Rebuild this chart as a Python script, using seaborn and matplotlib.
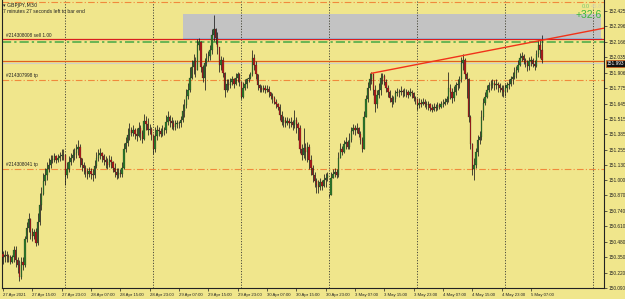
import numpy as np
import pandas as pd
import matplotlib
matplotlib.use("Agg")
import matplotlib.pyplot as plt
import matplotlib.transforms as mtransforms
from matplotlib.patches import Rectangle
import seaborn as sns

# ---------------- data (GBPJPY M30) ----------------
close = [
    150.35, 150.37, 150.36, 150.35, 150.31, 150.35, 150.41, 150.33, 150.28, 150.18,
    150.31, 150.28, 150.50, 150.60, 150.67, 150.56, 150.53, 150.56, 150.47, 150.65,
    150.79, 150.88, 150.99, 151.04, 151.09, 151.13, 151.17, 151.17, 151.20, 151.17,
    151.19, 151.20, 151.21, 151.21, 151.04, 151.09, 151.15, 151.19, 151.21, 151.23,
    151.26, 151.28, 151.19, 151.13, 151.10, 151.07, 151.05, 151.08, 151.05, 151.04,
    151.12, 151.19, 151.21, 151.23, 151.20, 151.17, 151.15, 151.13, 151.17, 151.15,
    151.10, 151.07, 151.04, 151.06, 151.05, 151.10, 151.26, 151.31, 151.38, 151.42,
    151.40, 151.42, 151.39, 151.37, 151.44, 151.40, 151.35, 151.50, 151.47, 151.42,
    151.43, 151.38, 151.26, 151.37, 151.42, 151.41, 151.39, 151.42, 151.42, 151.49,
    151.53, 151.50, 151.48, 151.45, 151.47, 151.48, 151.48, 151.51, 151.58, 151.63,
    151.71, 151.76, 151.86, 151.95, 152.00, 151.93, 152.14, 152.16, 151.95, 151.86,
    151.99, 152.03, 152.05, 152.10, 152.22, 152.27, 152.20, 152.12, 151.97, 152.01,
    151.90, 151.76, 151.81, 151.80, 151.83, 151.85, 151.81, 151.86, 151.89, 151.83,
    151.70, 151.78, 151.81, 151.85, 151.86, 151.89, 152.03, 151.97, 151.89, 151.80,
    151.78, 151.76, 151.78, 151.76, 151.77, 151.74, 151.71, 151.69, 151.66, 151.64,
    151.62, 151.55, 151.49, 151.51, 151.48, 151.50, 151.48, 151.49, 151.46, 151.51,
    151.47, 151.44, 151.26, 151.21, 151.27, 151.24, 151.28, 151.17, 151.10, 151.04,
    150.99, 150.96, 150.94, 150.98, 150.95, 151.00, 151.02, 151.04, 150.87, 151.02,
    151.05, 151.07, 151.04, 151.19, 151.26, 151.24, 151.30, 151.32, 151.28, 151.34,
    151.41, 151.44, 151.42, 151.44, 151.39, 151.34, 151.26, 151.53, 151.68, 151.78,
    151.85, 151.89, 151.76, 151.64, 151.72, 151.76, 151.86, 151.88, 151.83, 151.78,
    151.74, 151.69, 151.66, 151.68, 151.73, 151.74, 151.74, 151.75, 151.74, 151.74,
    151.74, 151.72, 151.74, 151.73, 151.69, 151.68, 151.63, 151.65, 151.64, 151.66,
    151.64, 151.63, 151.64, 151.61, 151.59, 151.62, 151.61, 151.63, 151.62, 151.64,
    151.64, 151.66, 151.68, 151.78, 151.74, 151.69, 151.74, 151.80, 151.81, 151.85,
    151.99, 152.01, 151.89, 151.85, 151.53, 151.30, 151.09, 151.13, 151.24, 151.34,
    151.36, 151.53, 151.65, 151.70, 151.76, 151.80, 151.80, 151.82, 151.80, 151.81,
    151.80, 151.78, 151.76, 151.74, 151.78, 151.80, 151.81, 151.85, 151.87, 151.90,
    151.93, 151.97, 152.03, 152.05, 152.01, 151.99, 151.96, 152.00, 152.01, 151.98,
    151.96, 152.06, 152.14, 152.10, 152.01,
]
high = [
    150.40, 150.41, 150.40, 150.38, 150.37, 150.37, 150.44, 150.44, 150.35, 150.33,
    150.35, 150.35, 150.53, 150.65, 150.72, 150.68, 150.60, 150.59, 150.60, 150.72,
    150.89, 150.94, 151.06, 151.10, 151.15, 151.19, 151.21, 151.21, 151.23, 151.21,
    151.22, 151.24, 151.26, 151.26, 151.21, 151.15, 151.20, 151.23, 151.26, 151.27,
    151.30, 151.34, 151.30, 151.19, 151.15, 151.13, 151.10, 151.11, 151.10, 151.09,
    151.17, 151.24, 151.26, 151.27, 151.24, 151.22, 151.20, 151.19, 151.21, 151.20,
    151.16, 151.14, 151.10, 151.10, 151.09, 151.15, 151.31, 151.36, 151.44, 151.48,
    151.45, 151.46, 151.44, 151.44, 151.49, 151.46, 151.42, 151.56, 151.54, 151.52,
    151.47, 151.45, 151.39, 151.45, 151.46, 151.45, 151.44, 151.46, 151.45, 151.55,
    151.58, 151.55, 151.53, 151.51, 151.51, 151.51, 151.50, 151.54, 151.64, 151.68,
    151.77, 151.82, 151.95, 152.01, 152.06, 152.04, 152.19, 152.20, 152.17, 151.97,
    152.03, 152.07, 152.09, 152.14, 152.27, 152.39, 152.28, 152.25, 152.12, 152.05,
    152.04, 151.91, 151.85, 151.85, 151.86, 151.88, 151.86, 151.90, 151.91, 151.90,
    151.83, 151.83, 151.85, 151.86, 151.89, 151.91, 152.10, 152.06, 152.00, 151.89,
    151.81, 151.80, 151.80, 151.80, 151.80, 151.79, 151.74, 151.73, 151.71, 151.68,
    151.65, 151.64, 151.58, 151.54, 151.53, 151.53, 151.52, 151.53, 151.51, 151.59,
    151.53, 151.49, 151.46, 151.30, 151.44, 151.31, 151.32, 151.30, 151.21, 151.13,
    151.07, 151.02, 151.00, 151.02, 151.00, 151.05, 151.06, 151.07, 150.88, 151.07,
    151.09, 151.10, 151.09, 151.24, 151.31, 151.29, 151.34, 151.36, 151.34, 151.40,
    151.45, 151.47, 151.46, 151.48, 151.45, 151.41, 151.36, 151.58, 151.72, 151.83,
    151.90, 151.91, 151.90, 151.80, 151.76, 151.82, 151.90, 151.90, 151.89, 151.85,
    151.80, 151.76, 151.72, 151.71, 151.76, 151.78, 151.77, 151.79, 151.77, 151.78,
    151.77, 151.76, 151.78, 151.76, 151.74, 151.71, 151.69, 151.69, 151.68, 151.69,
    151.68, 151.67, 151.67, 151.65, 151.64, 151.65, 151.64, 151.66, 151.65, 151.67,
    151.68, 151.69, 151.71, 151.91, 151.81, 151.78, 151.79, 151.83, 151.85, 151.88,
    152.04, 152.06, 152.03, 151.91, 151.86, 151.55, 151.31, 151.19, 151.27, 151.38,
    151.41, 151.59, 151.69, 151.74, 151.80, 151.83, 151.84, 151.85, 151.84, 151.85,
    151.83, 151.82, 151.80, 151.80, 151.81, 151.83, 151.85, 151.88, 151.91, 151.95,
    151.96, 152.01, 152.07, 152.08, 152.06, 152.03, 152.01, 152.04, 152.05, 152.03,
    152.01, 152.10, 152.18, 152.18, 152.22,
]
low = [
    150.29, 150.31, 150.31, 150.31, 150.29, 150.30, 150.31, 150.27, 150.22, 150.15,
    150.17, 150.24, 150.27, 150.48, 150.56, 150.50, 150.49, 150.50, 150.44, 150.45,
    150.62, 150.75, 150.87, 150.96, 151.00, 151.07, 151.10, 151.14, 151.15, 151.14,
    151.15, 151.16, 151.17, 151.17, 150.96, 151.02, 151.07, 151.13, 151.15, 151.17,
    151.19, 151.21, 151.11, 151.08, 151.05, 151.03, 151.01, 151.03, 151.01, 150.99,
    151.02, 151.10, 151.16, 151.18, 151.15, 151.13, 151.10, 151.09, 151.11, 151.10,
    151.07, 151.03, 151.01, 151.02, 151.03, 151.03, 151.09, 151.24, 151.29, 151.34,
    151.37, 151.37, 151.35, 151.33, 151.36, 151.34, 151.31, 151.34, 151.42, 151.38,
    151.39, 151.34, 151.22, 151.24, 151.34, 151.37, 151.36, 151.37, 151.38, 151.40,
    151.46, 151.45, 151.43, 151.42, 151.42, 151.44, 151.44, 151.45, 151.49, 151.53,
    151.61, 151.68, 151.74, 151.85, 151.89, 151.87, 151.93, 152.10, 151.91, 151.83,
    151.76, 151.96, 152.00, 152.01, 152.06, 152.17, 152.15, 152.06, 151.91, 151.93,
    151.87, 151.70, 151.74, 151.76, 151.78, 151.80, 151.78, 151.80, 151.83, 151.79,
    151.68, 151.69, 151.76, 151.78, 151.83, 151.85, 151.88, 151.93, 151.85, 151.76,
    151.74, 151.74, 151.74, 151.73, 151.74, 151.70, 151.68, 151.65, 151.64, 151.61,
    151.59, 151.51, 151.46, 151.45, 151.45, 151.46, 151.44, 151.45, 151.42, 151.44,
    151.40, 151.34, 151.23, 151.17, 151.19, 151.17, 151.15, 151.09, 151.04, 150.98,
    150.94, 150.89, 150.89, 150.92, 150.92, 150.94, 150.94, 150.99, 150.86, 150.88,
    151.02, 151.03, 151.02, 151.03, 151.19, 151.21, 151.23, 151.26, 151.26, 151.26,
    151.32, 151.39, 151.38, 151.40, 151.36, 151.30, 151.24, 151.26, 151.53, 151.66,
    151.76, 151.81, 151.72, 151.57, 151.61, 151.69, 151.72, 151.81, 151.80, 151.74,
    151.70, 151.66, 151.62, 151.64, 151.66, 151.71, 151.70, 151.72, 151.70, 151.71,
    151.70, 151.69, 151.71, 151.69, 151.67, 151.64, 151.59, 151.61, 151.62, 151.63,
    151.62, 151.60, 151.59, 151.58, 151.57, 151.58, 151.58, 151.59, 151.60, 151.61,
    151.62, 151.63, 151.64, 151.66, 151.68, 151.65, 151.67, 151.72, 151.76, 151.78,
    151.83, 151.93, 151.85, 151.69, 151.49, 151.26, 151.04, 151.00, 151.10, 151.20,
    151.30, 151.34, 151.51, 151.63, 151.69, 151.74, 151.76, 151.78, 151.76, 151.77,
    151.74, 151.74, 151.71, 151.70, 151.71, 151.74, 151.77, 151.79, 151.81, 151.85,
    151.86, 151.91, 151.96, 152.00, 151.98, 151.95, 151.92, 151.93, 151.96, 151.95,
    151.93, 151.95, 152.04, 152.03, 151.99,
]
first_open = 150.38
gap_opens = {178: 150.87}          # Monday open after the weekend gap

y_ticks = [152.425, 152.296, 152.166, 152.035, 151.906, 151.775, 151.645, 151.515,
           151.385, 151.255, 151.130, 151.000, 150.870, 150.740, 150.610, 150.480,
           150.350, 150.220, 150.090]
x_tick_bars = [0, 16, 32, 48, 64, 80, 96, 112, 128, 144, 160, 176, 192, 208, 224,
               240, 256, 272, 288]
x_tick_labels = ["27 Apr 2021", "27 Apr 15:00", "27 Apr 23:00", "28 Apr 07:00",
                 "28 Apr 15:00", "28 Apr 23:00", "29 Apr 07:00", "29 Apr 15:00",
                 "29 Apr 23:00", "30 Apr 07:00", "30 Apr 15:00", "30 Apr 23:00",
                 "3 May 07:00", "3 May 15:00", "3 May 23:00", "4 May 07:00",
                 "4 May 15:00", "4 May 23:00", "5 May 07:00"]
day_start_bars = [34, 82, 130, 178, 226, 274, 322]

sell_price = 152.187
sl_price = 152.166
bid_price = 152.005
ask_price = 151.984
tp1_price = 151.845
tp2_price = 151.095
top_line_price = 152.505
zone_low, zone_high = 152.19, 152.40
zone_start_bar, zone_end_bar = 98, 326.5
trend_bars = [201, 251]
trend_prices = [151.90, 152.05]
current_label = "151.993"

# ---------------- build frame ----------------
n = len(close)
opens = [first_open] + close[:-1]
for k, v in gap_opens.items():
    opens[k] = v
df = pd.DataFrame({"bar": np.arange(n), "open": opens, "high": high,
                   "low": low, "close": close})
df["up"] = df["close"] >= df["open"]

# ---------------- style ----------------
BG = "#F0E68C"
sns.set_style("white")
plt.rcParams["font.family"] = ["Liberation Sans", "DejaVu Sans"]

fig = plt.figure(figsize=(6.25, 2.99), dpi=100, facecolor=BG)
ax = fig.add_axes([2 / 625, 11 / 299, 602 / 625, 288 / 299])
ax.set_facecolor(BG)
XMAX = -0.5 + 602 / 1.8333
ax.set_xlim(-0.5, XMAX)
ax.set_ylim(150.090, 152.518)

# zone rectangle
ax.add_patch(Rectangle((zone_start_bar, zone_low), zone_end_bar - zone_start_bar,
                       zone_high - zone_low, facecolor="#C3C3C3", edgecolor="none",
                       zorder=0.5))
ax.plot([zone_start_bar, zone_end_bar], [zone_low + 0.004, zone_low + 0.004],
        color="#8FC3E6", lw=0.8, zorder=0.6)

# day separators
for b in day_start_bars:
    ax.axvline(b, color="#4b4b3c", lw=0.7, ls=(0, (1.2, 1.6)), zorder=0.7)

# horizontal lines
ax.axhline(top_line_price, color="#F08A3C", lw=0.8, ls=(0, (6, 2, 1, 2)), zorder=1)
ax.axhline(sl_price, color="#45A845", lw=1.1, ls=(0, (6, 2, 1.5, 2)), zorder=1)
ax.axhline(sell_price, color="#D81E1E", lw=0.9, zorder=1.1)
ax.axhline(bid_price, color="#E0601C", lw=0.9, zorder=1)
ax.axhline(ask_price, color="#D0D0C8", lw=0.8, zorder=1)
ax.axhline(tp1_price, color="#F08A3C", lw=0.8, ls=(0, (6, 2, 1, 2)), zorder=1)
ax.axhline(tp2_price, color="#F08A3C", lw=0.8, ls=(0, (6, 2, 1, 2)), zorder=1)

# candles
wick_lo = np.minimum(df["low"], np.minimum(df["open"], df["close"]))
wick_hi = np.maximum(df["high"], np.maximum(df["open"], df["close"]))
ax.vlines(df["bar"], wick_lo, wick_hi, color="#1A1A1A", lw=0.55, zorder=2)
body_bottom = np.minimum(df["open"], df["close"])
body_h = np.maximum(np.abs(df["close"] - df["open"]), 0.004)
colors = np.where(df["up"], "#2E7A2A", "#B01C1C")
ax.bar(df["bar"], body_h, bottom=body_bottom, width=0.8, color=colors,
       edgecolor="#1A1A1A", linewidth=0.15, zorder=3)

# trend line (ray)
slope = (trend_prices[1] - trend_prices[0]) / (trend_bars[1] - trend_bars[0])
tx = [trend_bars[0], XMAX]
ty = [trend_prices[0], trend_prices[0] + slope * (XMAX - trend_bars[0])]
sns.lineplot(x=tx, y=ty, ax=ax, color="#F0331A", lw=1.0, zorder=4)

# axes decoration
ax.spines["top"].set_visible(False)
for s in ["left", "right", "bottom"]:
    ax.spines[s].set_color("#222222")
    ax.spines[s].set_linewidth(0.8)
ax.yaxis.tick_right()
ax.set_yticks(y_ticks)
ax.set_yticklabels([f"{v:.3f}" for v in y_ticks])
ax.set_xticks(x_tick_bars)
ax.set_xticklabels(x_tick_labels, ha="left")
ax.tick_params(axis="y", which="both", right=True, left=False, length=2, width=0.5,
               pad=1, labelsize=3.4, colors="#222222")
ax.tick_params(axis="x", which="both", bottom=True, length=2, width=0.5, pad=1.5,
               labelsize=3.1, colors="#222222")
ax.grid(False)
ax.set_xlabel("")
ax.set_ylabel("")

# current price box on the axis
ax.annotate(current_label, xy=(1.0, 151.985), xycoords=("axes fraction", "data"),
            xytext=(2, 0), textcoords="offset points", va="center", ha="left",
            fontsize=3.4, color="white",
            bbox=dict(boxstyle="square,pad=0.25", fc="#111111", ec="#E0601C", lw=0.5))

# labels on order lines
lbl_tr = mtransforms.blended_transform_factory(ax.transAxes, ax.transData)
ax.text(0.006, sell_price + 0.012, "#214308008 sell 1.00", transform=lbl_tr,
        fontsize=3.4, color="#222222", va="bottom")
ax.text(0.006, tp1_price + 0.012, "#214307998 tp", transform=lbl_tr,
        fontsize=3.4, color="#222222", va="bottom")
ax.text(0.006, tp2_price + 0.012, "#214308041 tp", transform=lbl_tr,
        fontsize=3.4, color="#222222", va="bottom")

# header texts
def fx(px):
    return px / 625

def fy(py):
    return 1 - py / 299

fig.text(fx(3), fy(5), "\u25be GBPJPY,M30", fontsize=3.6, color="#222222", va="center",
         family=["DejaVu Sans"])
fig.text(fx(3), fy(11.5), "7 minutes 27 seconds left to bar end", fontsize=3.6,
         color="#222222", va="center")
fig.text(fx(582), fy(7), "0.0", fontsize=4.2, color="#7CCB6E", va="center")
fig.text(fx(591), fy(7), "45.8", fontsize=4.2, color="#D8D0A8", va="center")
fig.text(fx(602), fy(15.5), "+32.6", fontsize=7.5, color="#3DB83D", va="center",
         ha="right")

fig.savefig("out.png", dpi=100, facecolor=BG)
